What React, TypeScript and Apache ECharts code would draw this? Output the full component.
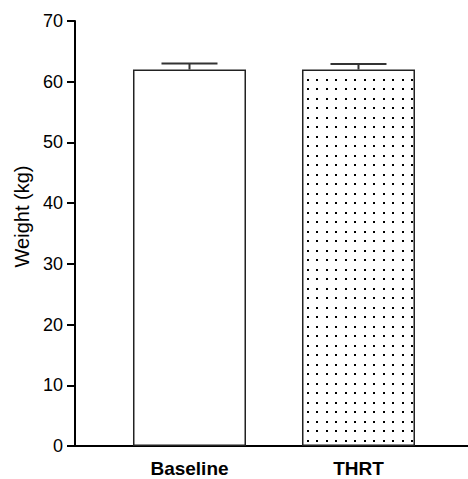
import React, { useEffect, useRef } from "react";
import * as echarts from "echarts";

const categories = ["Baseline", "THRT"];
const means = [62.0, 62.0];
const sems = [1.0, 0.9];
const yTicks = [0, 10, 20, 30, 40, 50, 60, 70];

function makeDots(): HTMLCanvasElement {
  const c = document.createElement("canvas");
  c.width = 19;
  c.height = 19;
  const ctx = c.getContext("2d")!;
  ctx.fillStyle = "#ffffff";
  ctx.fillRect(0, 0, 19, 19);
  ctx.fillStyle = "#000000";
  const pos = [3, 12];
  for (const x of pos) for (const y of pos) ctx.fillRect(x, y, 2, 2);
  return c;
}

export default function App() {
  const ref = useRef<HTMLDivElement>(null);
  useEffect(() => {
    if (!ref.current) return;
    const chart = echarts.init(ref.current, null, { renderer: "svg" });
    const font = "Arial, 'Liberation Sans', Helvetica, sans-serif";
    const dots = makeDots();
    chart.setOption({
      animation: false,
      backgroundColor: "#ffffff",
      grid: { left: 75, right: 0, top: 21, bottom: 33, containLabel: false },
      xAxis: {
        type: "value",
        min: 0.3225,
        max: 2.648,
        axisLine: { show: true, lineStyle: { color: "#000", width: 2 } },
        axisTick: { show: false },
        splitLine: { show: false },
        axisLabel: {
          customValues: [1, 2],
          formatter: (v: number) => categories[Math.round(v) - 1] ?? "",
          color: "#000",
          fontFamily: font,
          fontSize: 19,
          fontWeight: "bold",
          margin: 13,
        },
      },
      yAxis: {
        type: "value",
        min: yTicks[0],
        max: yTicks[yTicks.length - 1],
        interval: 10,
        name: "Weight (kg)",
        nameLocation: "middle",
        nameGap: 43,
        nameTextStyle: {
          color: "#000",
          fontFamily: font,
          fontSize: 20,
          padding: [0, 0, 0, 34],
        },
        axisLine: { show: true, lineStyle: { color: "#000", width: 2 } },
        axisTick: { show: true, inside: false, length: 8, lineStyle: { color: "#000", width: 2 } },
        splitLine: { show: false },
        axisLabel: {
          color: "#000",
          fontFamily: font,
          fontSize: 18,
          margin: 12,
        },
      },
      series: [
        {
          type: "bar",
          barWidth: 113,
          data: categories.map((c, i) => ({
            value: [i + 1, means[i]],
            itemStyle:
              i === 0
                ? { color: "#ffffff", borderColor: "#222", borderWidth: 1.5 }
                : {
                    color: { image: dots, repeat: "repeat" },
                    borderColor: "#222",
                    borderWidth: 1.5,
                  },
          })),
        },
        {
          type: "custom",
          z: 3,
          data: categories.map((c, i) => [i + 1, means[i], means[i] + sems[i]]),
          renderItem: (params: any, api: any) => {
            const x = api.value(0);
            const top = api.coord([x, api.value(1)]);
            const hi = api.coord([x, api.value(2)]);
            const half = 28;
            const style = { stroke: "#333", lineWidth: 2 };
            return {
              type: "group",
              children: [
                { type: "line", shape: { x1: top[0], y1: top[1], x2: hi[0], y2: hi[1] }, style },
                { type: "line", shape: { x1: hi[0] - half, y1: hi[1], x2: hi[0] + half, y2: hi[1] }, style },
              ],
            };
          },
        },
      ],
    });
    return () => chart.dispose();
  }, []);
  return (
    <div
      ref={ref}
      style={{ position: "fixed", left: 0, top: 0, width: 468, height: 479 }}
    />
  );
}
